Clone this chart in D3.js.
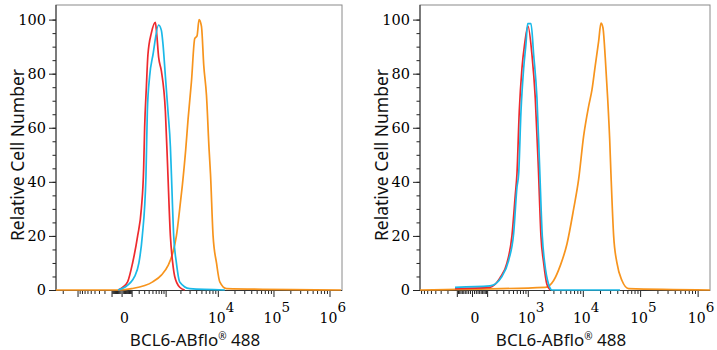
<!DOCTYPE html>
<html>
<head>
<meta charset="utf-8">
<script src="https://cdn.jsdelivr.net/npm/d3@7"></script>
<style>
    body { margin: 0; background: #fff; }
    svg { display: block; }
    .tick text { font-family: "DejaVu Serif", "Liberation Serif", serif; font-size: 14.5px; fill: #000; }
    .x-label { font-family: "DejaVu Serif", "Liberation Serif", serif; fill: #000; }
    .axis-title { font-family: "Noto Sans", "Open Sans", sans-serif; fill: #111; }
</style>
</head>
<body>
<svg id="chart" width="717" height="350"></svg>
<script>

// ---- data: left panel (fluorescence, relative count) ----
const leftOrangeX = [-2700, -17, 100, 506, 808, 1122, 1422, 1665, 1936, 2187, 2534, 2805, 3254, 3757, 4149, 4522, 5012, 5530, 6201, 6925, 7347, 8197, 9457, 10860, 14375, 1600000];
const leftOrangeY = [0, 0, 0.5, 3, 5.5, 9, 14, 20, 30, 39, 52, 63, 77, 93, 94, 100, 97.5, 83, 72, 52, 43, 20, 10, 3, 0.5, 0];

const leftRedX = [-30, 8, 55, 112, 183, 245, 289, 309, 346, 382, 469, 588, 631, 702, 808, 988, 1105, 1258, 1403, 1540, 1936, 2423];
const leftRedY = [0, 1, 3, 10, 20, 30, 45, 60, 75, 87, 95, 99, 95, 86, 81, 66, 45, 20, 10, 5, 1, 0];

const leftCyanX = [-30, 26, 139, 203, 263, 337, 368, 424, 515, 702, 808, 876, 988, 1122, 1258, 1319, 1470, 1665, 1936, 3022, 13390];
const leftCyanY = [0, 1, 5, 10, 20, 42, 66, 79, 87, 98, 96, 91, 79, 66, 53, 43, 20, 10, 3, 0.5, 0];

// ---- data: right panel ----
const rightOrangeX = [-840, 2131, 3031, 3983, 5244, 6892, 8445, 10343, 12660, 14460, 16520, 18950, 20780, 22520, 24700, 27200, 29480, 31060, 34620, 39520, 48290, 63190, 1640000];
const rightOrangeY = [0, 1, 3.5, 9, 17, 30, 41, 57, 68, 74, 83, 92, 98.7, 97, 86, 71, 56, 43, 20, 10, 3.5, 0.5, 0];

const rightRedX = [-117, 127, 248, 367, 474, 558, 606, 676, 767, 868, 1007, 1203, 1390, 1590, 1776, 1992, 2290, 2630];
const rightRedY = [0.5, 1, 4.5, 10, 20, 35, 43, 66, 82, 91, 97.6, 87, 71, 45, 20, 10, 2, 0];

const rightCyanX = [-117, 127, 278, 401, 516, 606, 657, 732, 829, 920, 994, 1151, 1296, 1495, 1680, 1877, 2079, 2460, 2824, 44590];
const rightCyanY = [1, 1.5, 5, 11, 21, 38, 43, 66, 82, 91, 98.5, 98.5, 87, 71, 45, 20, 10, 2, 0, 0];

// ---- tick labels ----
const yTicks = [0, 20, 40, 60, 80, 100];
const leftXLabels = [0, 1e4, 1e5, 1e6];
const rightXLabels = [0, 1e3, 1e4, 1e5, 1e6];

const xTitle = "BCL6-ABflo";
const yTitle = "Relative Cell Number";

const colors = {orange: "#f7941d", red: "#ee2a2e", cyan: "#1bb9e8"};


class HistVis {

    constructor(svg, config) {
        this.svg = svg;
        this.config = config;
        this.initVis();
    }

    initVis() {
        let vis = this;
        let c = vis.config;

        vis.top = 5;
        vis.bottom = 290.5;

        vis.x = d3.scaleSymlog()
            .constant(c.constant)
            .domain(c.domain)
            .range([c.left, c.right]);

        vis.y = d3.scaleLinear()
            .domain([0, 105.4])
            .range([290, vis.top]);

        vis.g = vis.svg.append("g");

        // frame
        vis.g.append("rect")
            .attr("x", c.left)
            .attr("y", vis.top)
            .attr("width", c.right - c.left)
            .attr("height", vis.bottom - vis.top)
            .attr("fill", "none")
            .attr("stroke", "#8a8a8a")
            .attr("stroke-width", 1);

        // x ticks (biexponential style: minors at k*10^n on both sides of 0)
        let minor = [], major = [0];
        for (let n = 1; n <= 6; n++) {
            for (let k = 1; k <= 9; k++) {
                let v = k * Math.pow(10, n);
                [v, -v].forEach(t => {
                    if (t > c.domain[0] && t < c.domain[1]) {
                        if (k === 1 && n >= 2) major.push(t); else minor.push(t);
                    }
                });
            }
        }

        vis.g.append("g")
            .attr("class", "x-axis-minor")
            .attr("transform", `translate(0, ${vis.bottom})`)
            .call(d3.axisBottom(vis.x).tickValues(minor).tickSize(3.5).tickFormat(""))
            .call(g => g.select(".domain").remove());

        vis.g.append("g")
            .attr("class", "x-axis-major")
            .attr("transform", `translate(0, ${vis.bottom})`)
            .call(d3.axisBottom(vis.x).tickValues(major).tickSize(6.5).tickFormat(""))
            .call(g => g.select(".domain").remove());

        // x tick labels
        c.labels.forEach(v => {
            let px = vis.x(v);
            if (v === 0) {
                vis.g.append("text")
                    .attr("class", "x-label")
                    .attr("x", px + 3)
                    .attr("y", 323)
                    .attr("text-anchor", "middle")
                    .attr("font-size", 14)
                    .text("0");
            } else {
                let exp = Math.round(Math.log10(v));
                vis.g.append("text")
                    .attr("class", "x-label")
                    .attr("x", px - 1)
                    .attr("y", 323)
                    .attr("text-anchor", "middle")
                    .attr("font-size", 14)
                    .text("10");
                vis.g.append("text")
                    .attr("class", "x-label")
                    .attr("x", px + 8)
                    .attr("y", 312)
                    .attr("font-size", 13.5)
                    .text(exp);
            }
        });

        // y axis
        vis.g.append("g")
            .attr("class", "y-axis-minor")
            .attr("transform", `translate(${c.left}, 0)`)
            .call(d3.axisLeft(vis.y).tickValues(d3.range(0, 101, 5)).tickSize(3.5).tickFormat(""))
            .call(g => g.select(".domain").remove());

        vis.g.append("g")
            .attr("class", "y-axis")
            .attr("transform", `translate(${c.left}, 0)`)
            .call(d3.axisLeft(vis.y).tickValues(yTicks).tickSize(7).tickPadding(3))
            .call(g => g.select(".domain").remove());

        vis.g.selectAll(".tick line").attr("stroke", "#222");

        // axis lines
        vis.g.append("line")
            .attr("x1", c.left).attr("x2", c.left)
            .attr("y1", vis.top).attr("y2", vis.bottom)
            .attr("stroke", "#333");
        vis.g.append("line")
            .attr("x1", c.left).attr("x2", c.right)
            .attr("y1", vis.bottom).attr("y2", vis.bottom)
            .attr("stroke", "#333");

        // titles
        let xt = vis.g.append("text")
            .attr("class", "axis-title")
            .attr("x", (c.left + c.right) / 2 - 4)
            .attr("y", 346)
            .attr("text-anchor", "middle")
            .attr("font-size", 17);
        xt.append("tspan").text(xTitle);
        xt.append("tspan").attr("font-size", 10).attr("dy", -6).text("®");
        xt.append("tspan").attr("dy", 6).text(" 488");

        vis.g.append("text")
            .attr("class", "axis-title")
            .attr("transform", `translate(${c.left - 32}, 155) rotate(-90)`)
            .attr("text-anchor", "middle")
            .attr("font-size", 17.5)
            .text(yTitle);

        vis.updateVis();
    }

    updateVis() {
        let vis = this;

        let line = d3.line()
            .x(d => vis.x(d[0]))
            .y(d => vis.y(d[1]))
            .curve(d3.curveMonotoneX);

        vis.g.selectAll(".hist")
            .data(vis.config.series)
            .join("path")
            .attr("class", "hist")
            .attr("d", s => line(d3.zip(s.x, s.y)))
            .attr("fill", "none")
            .attr("stroke", s => s.color)
            .attr("stroke-width", 1.7)
            .attr("stroke-linejoin", "round");
    }
}

let svg = d3.select("#chart");

new HistVis(svg, {
    left: 56, right: 342,
    domain: [-2700, 1670000], constant: 196,
    labels: leftXLabels,
    series: [
        {x: leftOrangeX, y: leftOrangeY, color: colors.orange},
        {x: leftRedX, y: leftRedY, color: colors.red},
        {x: leftCyanX, y: leftCyanY, color: colors.cyan}
    ]
});

new HistVis(svg, {
    left: 420, right: 710,
    domain: [-840, 1640000], constant: 120,
    labels: rightXLabels,
    series: [
        {x: rightOrangeX, y: rightOrangeY, color: colors.orange},
        {x: rightRedX, y: rightRedY, color: colors.red},
        {x: rightCyanX, y: rightCyanY, color: colors.cyan}
    ]
});

</script>
</body>
</html>
